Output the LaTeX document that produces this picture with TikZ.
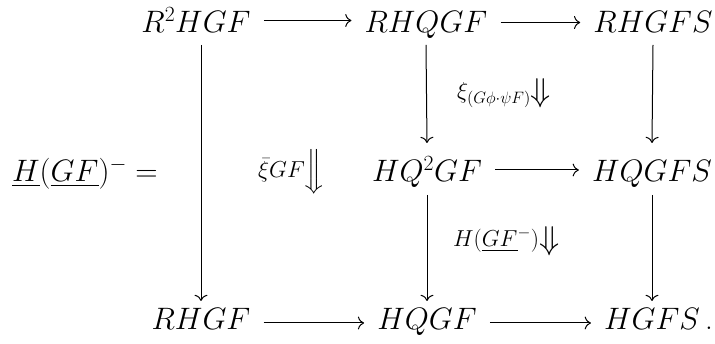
\documentclass[tikz,border=0pt]{standalone}
\usepackage{fix-cm}
\usepackage{amsmath}
\usetikzlibrary{arrows.meta,cd}
\newcommand{\longDa}[1]{\left\Downarrow\vcenter{\hbox{\vrule height #1 width 0pt}}\right.}
\tikzset{
  obj/.style={inner sep=0pt, anchor=base, font=\fontsize{31}{37}\selectfont},
  lab/.style={inner sep=0pt, anchor=base west, font=\fontsize{31}{37}\selectfont},
  twolab/.style={inner sep=0pt, anchor=base west, font=\fontsize{33}{39}\selectfont},
  cdarr/.style={line width=1pt, -{cm to}},
  harr/.style={cdarr, shorten <=13pt, shorten >=13pt}
}
\begin{document}
\begin{tikzpicture}[x=1pt,y=-1pt]
\useasboundingbox[fill=white] (0,0) rectangle (715,344);
% objects
\node[obj] (a11) at (196,33) {$R^2HGF$};
\node[obj] (a12) at (426,33) {$RHQGF$};
\node[obj] (a13) at (653,33) {$RHGFS$};
\node[lab] (lhs) at (12,182) {$\underline{H}(\underline{GF})^-=$};
\node[obj] (a22) at (427,182) {$HQ^2GF$};
\node[obj] (a23) at (652,182) {$HQGFS$};
\node[obj] (a31) at (201,330) {$RHGF$};
\node[obj] (a32) at (427,330) {$HQGF$};
\node[obj] (a33) at (652,330) {$HGFS\rlap{\,.}$};
% 2-cell labels
\node[twolab] (l1) at (457,99) {$\scriptstyle \xi_{(G\phi\cdot\psi F)}\longDa{26pt}$};
\node[twolab] (l2) at (258,178) {$\scriptstyle \bar\xi GF\longDa{48pt}$};
\node[twolab] (l3) at (453,247) {$\scriptstyle H(\underline{GF}^-)\longDa{26pt}$};
% horizontal arrows
\draw[harr] ([yshift=12.5pt]a11.base east) -- ([yshift=12.5pt]a12.base west);
\draw[harr] ([yshift=10.5pt]a12.base east) -- ([yshift=10.5pt]a13.base west);
\draw[harr] ([yshift=12pt]a22.base east) -- ([yshift=12pt]a23.base west);
\draw[harr] ([yshift=7pt]a31.base east) -- ([yshift=7pt]a32.base west);
\draw[harr] ([yshift=7pt]a32.base east) -- ([yshift=7pt]a33.base west);
% vertical arrows
\draw[cdarr] (a31.base |- a11.base) ++(0,12) -- ([yshift=29pt]a31.base);
\draw[cdarr] ([yshift=-12pt]a12.base) -- ([yshift=39pt]a22.base);
\draw[cdarr] ([yshift=-13pt]a22.base) -- ([yshift=29pt]a32.base);
\draw[cdarr] ([yshift=-12pt]a13.base) -- ([yshift=39pt]a23.base);
\draw[cdarr] ([yshift=-13pt]a23.base) -- ([yshift=29pt]a33.base);
\end{tikzpicture}
\end{document}
